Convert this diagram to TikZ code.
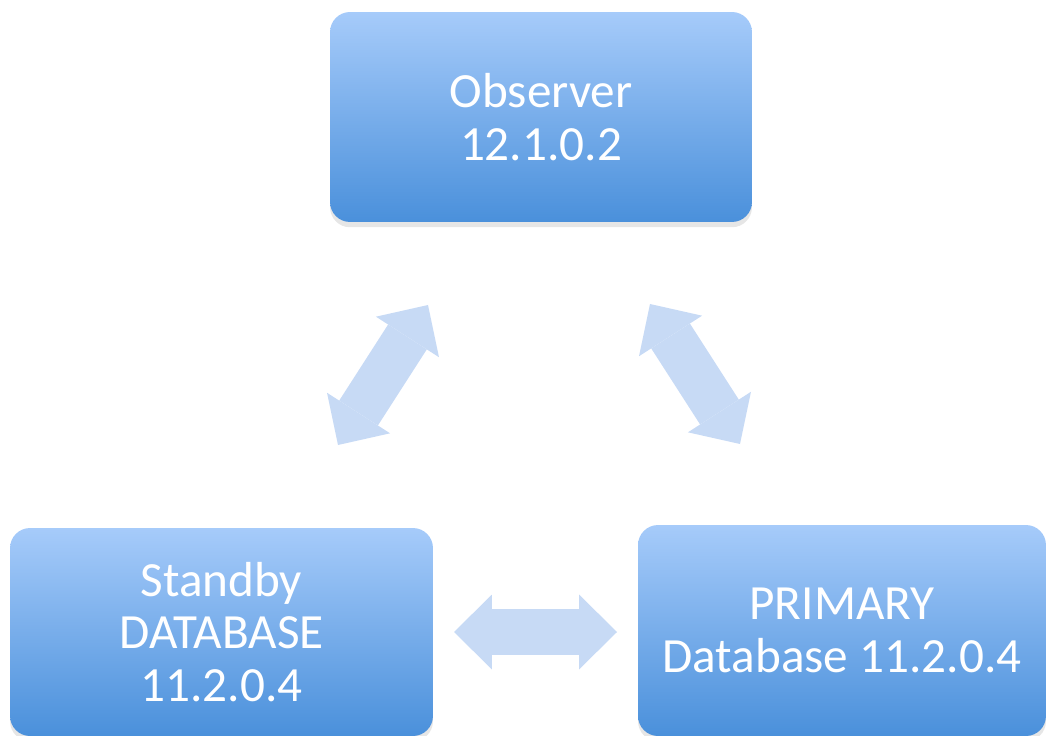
\documentclass[tikz,border=0pt]{standalone}
\usepackage{fontspec}
\setmainfont{Carlito}
\usetikzlibrary{arrows.meta,shadows}
\definecolor{boxtop}{HTML}{A6CBFA}
\definecolor{boxbot}{HTML}{4A90DB}
\definecolor{linkblue}{HTML}{C7DAF5}
\begin{document}
\begin{tikzpicture}[x=0.02cm,y=-0.02cm,
	dbbox/.style={rectangle,rounded corners=0.4cm,top color=boxtop,bottom color=boxbot,
		text=white,align=center,inner sep=0pt,font=\fontsize{28}{30}\selectfont,
		drop shadow={shadow xshift=0pt,shadow yshift=-3pt,opacity=0.2}},
	link/.style={draw=linkblue,line width=0.92cm,
		{Triangle[length=0.76cm,width=1.5cm,line width=0pt]}-{Triangle[length=0.76cm,width=1.5cm,line width=0pt]}}]
\useasboundingbox (0,0) rectangle (1048,736);
\node[dbbox,minimum width=8.44cm,minimum height=4.2cm] (obs) at (541,117) {Observer\\12.1.0.2};
\node[dbbox,minimum width=8.46cm,minimum height=4.16cm] (stb) at (221.5,632) {Standby\\DATABASE\\11.2.0.4};
\node[dbbox,minimum width=8.16cm,minimum height=4.22cm] (pri) at (842,630.5) {PRIMARY\\Database 11.2.0.4};
% free ends of the links
\coordinate (so1) at (338,445);
\coordinate (so2) at (428,305);
\coordinate (po1) at (650,304);
\coordinate (po2) at (740,444);
\coordinate (sp1) at (454,632);
\coordinate (sp2) at (617,632);
\draw[link] (so1) -- (so2);
\draw[link] (po1) -- (po2);
\draw[link] (sp1) -- (sp2);
\end{tikzpicture}
\end{document}
